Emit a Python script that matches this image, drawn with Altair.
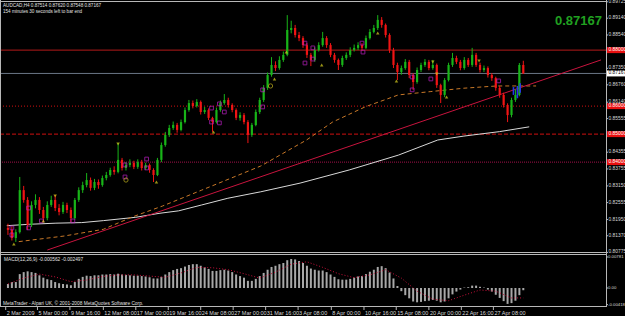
import altair as alt
import pandas as pd

# ---------------- data ----------------
first_open = 0.8165
closes = [0.8158, 0.8129, 0.8150, 0.8300, 0.8265, 0.8175, 0.8247, 0.8265, 0.8229, 0.8200,
          0.8247, 0.8265, 0.8236, 0.8222, 0.8247, 0.8229, 0.8200, 0.8265, 0.8300, 0.8318,
          0.8336, 0.8308, 0.8329, 0.8318, 0.8343, 0.8354, 0.8372, 0.8365, 0.8408, 0.8379,
          0.8390, 0.8397, 0.8383, 0.8400, 0.8379, 0.8390, 0.8372, 0.8354, 0.8408, 0.8461,
          0.8497, 0.8522, 0.8533, 0.8515, 0.8543, 0.8586, 0.8611, 0.8600, 0.8615, 0.8579,
          0.8586, 0.8558, 0.8543, 0.8586, 0.8611, 0.8622, 0.8604, 0.8586, 0.8558, 0.8568,
          0.8543, 0.8497, 0.8533, 0.8579, 0.8622, 0.8665, 0.8711, 0.8747, 0.8736, 0.8765,
          0.8783, 0.8872, 0.8879, 0.8854, 0.8843, 0.8818, 0.8783, 0.8765, 0.8800, 0.8818,
          0.8843, 0.8818, 0.8783, 0.8765, 0.8747, 0.8772, 0.8783, 0.8800, 0.8808, 0.8818,
          0.8808, 0.8843, 0.8865, 0.8879, 0.8908, 0.8890, 0.8854, 0.8800, 0.8747, 0.8722,
          0.8736, 0.8758, 0.8711, 0.8686, 0.8729, 0.8747, 0.8758, 0.8736, 0.8747, 0.8675,
          0.8640, 0.8693, 0.8747, 0.8772, 0.8758, 0.8736, 0.8765, 0.8747, 0.8783, 0.8747,
          0.8729, 0.8736, 0.8711, 0.8700, 0.8665, 0.8640, 0.8604, 0.8568, 0.8622, 0.8640,
          0.8747, 0.87167]
highs = [0.8180, 0.8170, 0.8160, 0.8347, 0.8315, 0.8275, 0.8260, 0.8285, 0.8275, 0.8240,
         0.8260, 0.8280, 0.8283, 0.8250, 0.8258, 0.8255, 0.8238, 0.8272, 0.8310, 0.8330,
         0.8361, 0.8345, 0.8340, 0.8338, 0.8352, 0.8365, 0.8380, 0.8385, 0.8468, 0.8415,
         0.8400, 0.8410, 0.8405, 0.8410, 0.8408, 0.8398, 0.8395, 0.8378, 0.8415, 0.8470,
         0.8508, 0.8533, 0.8545, 0.8540, 0.8552, 0.8595, 0.8622, 0.8620, 0.8625, 0.8620,
         0.8597, 0.8592, 0.8562, 0.8595, 0.8620, 0.8643, 0.8630, 0.8610, 0.8592, 0.8578,
         0.8575, 0.8550, 0.8540, 0.8588, 0.8630, 0.8675, 0.8720, 0.8775, 0.8760, 0.8778,
         0.8795, 0.8925, 0.8905, 0.8890, 0.8865, 0.8850, 0.8825, 0.8790, 0.8810, 0.8828,
         0.8865, 0.8850, 0.8825, 0.8790, 0.8770, 0.8780, 0.8792, 0.8810, 0.8820, 0.8828,
         0.8825, 0.8852, 0.8875, 0.8890, 0.8925, 0.8918, 0.8895, 0.8860, 0.8808, 0.8755,
         0.8745, 0.8768, 0.8765, 0.8718, 0.8738, 0.8755, 0.8768, 0.8765, 0.8765, 0.8752,
         0.8680, 0.8700, 0.8755, 0.8790, 0.8780, 0.8765, 0.8775, 0.8772, 0.8808, 0.8790,
         0.8755, 0.8745, 0.8742, 0.8718, 0.8705, 0.8672, 0.8648, 0.8610, 0.8630, 0.8660,
         0.8754, 0.8762]
lows = [0.8140, 0.8120, 0.8115, 0.8145, 0.8255, 0.8158, 0.8168, 0.8235, 0.8215, 0.8186,
        0.8192, 0.8240, 0.8225, 0.8210, 0.8215, 0.8218, 0.8186, 0.8195, 0.8258, 0.8290,
        0.8310, 0.8298, 0.8300, 0.8305, 0.8312, 0.8335, 0.8348, 0.8355, 0.8360, 0.8370,
        0.8370, 0.8382, 0.8375, 0.8376, 0.8370, 0.8372, 0.8362, 0.8329, 0.8350, 0.8400,
        0.8455, 0.8490, 0.8515, 0.8505, 0.8510, 0.8538, 0.8580, 0.8592, 0.8595, 0.8570,
        0.8572, 0.8550, 0.8508, 0.8538, 0.8580, 0.8605, 0.8595, 0.8578, 0.8550, 0.8548,
        0.8535, 0.8468, 0.8490, 0.8528, 0.8572, 0.8615, 0.8658, 0.8705, 0.8725, 0.8730,
        0.8758, 0.8778, 0.8860, 0.8845, 0.8832, 0.8808, 0.8772, 0.8743, 0.8758, 0.8795,
        0.8812, 0.8808, 0.8775, 0.8755, 0.8729, 0.8740, 0.8765, 0.8775, 0.8795, 0.8800,
        0.8798, 0.8803, 0.8838, 0.8860, 0.8872, 0.8880, 0.8845, 0.8790, 0.8736, 0.8693,
        0.8712, 0.8730, 0.8700, 0.8658, 0.8680, 0.8722, 0.8740, 0.8728, 0.8730, 0.8665,
        0.8611, 0.8632, 0.8688, 0.8740, 0.8750, 0.8728, 0.8730, 0.8740, 0.8740, 0.8740,
        0.8720, 0.8722, 0.8702, 0.8690, 0.8655, 0.8630, 0.8595, 0.8543, 0.8560, 0.8615,
        0.8635, 0.8715]

# MACD(12,26,9) main line (histogram), in thousandths
macd_e3 = [1.0, 1.5, 1.5, 3.5, 4.0, 4.2, 4.0, 3.8, 3.2, 2.6,
           2.2, 2.0, 1.5, 1.2, 1.0, 0.9, 0.7, 1.5, 2.3, 2.8,
           3.1, 3.0, 3.2, 3.2, 3.4, 3.4, 3.5, 3.4, 3.6, 3.4,
           3.3, 3.2, 3.1, 3.1, 3.0, 2.9, 2.7, 2.4, 2.4, 2.8,
           3.4, 4.0, 4.5, 4.8, 5.0, 5.4, 5.8, 6.0, 6.0, 5.6,
           5.2, 4.8, 4.3, 4.3, 4.5, 4.6, 4.4, 4.0, 3.4, 3.0,
           2.6, 1.8, 1.8, 2.3, 3.0, 3.8, 4.6, 5.3, 5.6, 6.0,
           6.3, 7.0, 7.3, 7.2, 6.8, 6.3, 5.6, 4.9, 4.6, 4.4,
           4.4, 4.0, 3.4, 2.8, 2.2, 2.1, 2.1, 2.3, 2.6, 2.9,
           3.0, 3.5, 4.1, 4.6, 5.3, 5.5, 5.0, 3.9, 2.4, 0.5,
           -0.8, -1.8, -2.6, -3.4, -3.6, -3.5, -3.3, -3.2, -3.0, -3.2,
           -3.6, -3.4, -2.6, -1.6, -0.9, -0.4, 0.1, 0.2, 0.6, 0.6,
           0.3, 0.1, -0.4, -0.9, -1.7, -2.5, -3.3, -4.0, -3.8, -3.2,
           -1.8, -0.56]
signal_idx = [0, 4, 8, 12, 16, 20, 24, 28, 32, 36, 40, 44, 48, 52, 56, 60, 64, 68,
              72, 76, 80, 84, 88, 92, 96, 100, 104, 108, 112, 116, 120, 124, 128, 131]
signal_e3 = [1.0, 2.5, 3.5, 2.8, 1.6, 2.0, 2.9, 3.3, 3.3, 3.0, 2.7, 3.8, 5.2, 5.1, 4.6, 3.6, 2.5, 4.0,
             6.0, 6.6, 5.2, 3.6, 2.6, 3.3, 4.6, 2.5, -0.8, -2.8, -3.2, -1.8, -0.5, -0.8, -2.5, -2.5]

ma_fast_idx = [2.75, 14.25, 24.25, 31.75, 39.25, 49.25, 56.75, 64.25, 75.9, 82.5, 90.9, 99.25, 107.5, 115.9, 124.25, 134.25]
ma_fast_val = [0.8116, 0.8136, 0.8160, 0.8205, 0.8243, 0.8300, 0.8343, 0.8386, 0.8479, 0.8543, 0.8598, 0.8640, 0.8652, 0.8664, 0.8672, 0.8672]
ma_slow_idx = [-0.3, 5.5, 12.2, 18.75, 24.25, 32.5, 38.4, 43.4, 49.25, 55.9, 64.25, 74.25, 86.75, 99.25, 109.25, 115.9, 125, 132.5]
ma_slow_val = [0.8173, 0.8178, 0.8182, 0.8184, 0.8191, 0.8203, 0.8217, 0.8226, 0.8247, 0.8271, 0.8294, 0.8325, 0.8372, 0.8425, 0.8479, 0.8493, 0.8509, 0.8526]
trend_idx = [10, 150.75]
trend_val = [0.8086, 0.8765]

blue_idx = [128.5, 129.5, 130.2]
blue_lo = [0.8640, 0.8628, 0.8648]
blue_hi = [0.8668, 0.8672, 0.8682]

sq_idx = [1, 1, 5.25, 5.25, 8.5, 16.5, 29.75, 29.75, 35.25, 35.25, 51.75, 51.75, 53.75, 53.75, 55,
          64.75, 64.75, 75.5, 75.5, 77.5, 77.5, 90, 90.25, 102.75, 102.75, 107.5, 124.75]
sq_val = [0.8165, 0.8140, 0.8236, 0.8165, 0.8190, 0.8190, 0.8390, 0.8347, 0.8411, 0.8379, 0.8593, 0.8543, 0.8608, 0.8540, 0.8579,
          0.8658, 0.8597, 0.8825, 0.8754, 0.8808, 0.8768, 0.8825, 0.8793, 0.8704, 0.8658, 0.8697, 0.8690]
tri_up_idx = [1.5, 9, 37.75, 52.25, 67.75, 70.75, 79.75, 94, 98.75, 111.5]
tri_up_val = [0.8108, 0.8190, 0.8329, 0.8508, 0.8697, 0.8793, 0.8747, 0.8861, 0.8690, 0.8633]
tri_dn_idx = [12, 28, 108, 109, 119.75]
tri_dn_val = [0.8279, 0.8465, 0.8758, 0.8715, 0.8761]
circ_idx = [30, 66.75]
circ_val = [0.8336, 0.8672]

level_prices = [0.88, 0.86, 0.85, 0.84]
level_labels = ["0.88000", "0.86000", "0.85000", "0.84000"]
bid_price = 0.87167
bid_label = "0.87167"
price_ticks = [0.89725, 0.89140, 0.88540, 0.87350, 0.86760, 0.86140, 0.85555,
               0.84355, 0.83755, 0.83150, 0.82555, 0.81950, 0.81370, 0.80775]
macd_ticks = [7.81, 0.0, -4.18]
macd_tick_labels = ["0.00781", "0.00", "-0.00418"]

date_pos = [-0.575, 7.5, 15.75, 24.25, 32.5, 40.75, 49, 57.25, 65.5, 73.75, 82.2, 90.5, 98.7, 107, 115.25, 123.4]
date_labels = ["2 Mar 2009", "5 Mar 00:00", "9 Mar 16:00", "12 Mar 08:00", "17 Mar 00:00", "19 Mar 16:00",
               "24 Mar 08:00", "27 Mar 00:00", "31 Mar 16:00", "3 Apr 08:00", "8 Apr 00:00", "10 Apr 16:00",
               "15 Apr 08:00", "20 Apr 00:00", "22 Apr 16:00", "27 Apr 08:00"]

header1 = "AUDCAD,H4  0.87514 0.87620 0.87548 0.87167"
header2 = "154 minutes 30 seconds left to bar end"
macd_title = "MACD(12,26,9) -0.000562 -0.002497"
copyright_text = "MetaTrader - Alpari UK, \u00a9 2001-2008 MetaQuotes Software Corp."

# ---------------- scales ----------------
FONT = "Liberation Sans"
X = alt.Scale(domain=[-0.75, 150.75], range=[0, 606], zero=False, nice=False)
YM = alt.Scale(domain=[0.8079, 0.8979], range=[252, 0], zero=False, nice=False)
YD = alt.Scale(domain=[-4.53, 8.56], range=[306, 254], zero=False, nice=False)
COL = alt.Scale(domain=["up", "down"], range=["#18b418", "#f01414"])


def xq(f):
    return alt.X(f, type="quantitative", scale=X, axis=None)


def ym(f):
    return alt.Y(f, type="quantitative", scale=YM, axis=None)


def yd(f):
    return alt.Y(f, type="quantitative", scale=YD, axis=None)


one = pd.DataFrame({"k": [0]})
layers = []

# level lines
level_styles = [("#b41a1a", None), ("#d01010", [1, 2]), ("#d01010", [4, 2]), ("#a0104a", [1, 1])]
for p, (c, d) in zip(level_prices, level_styles):
    kw = {"color": c, "strokeWidth": 1}
    if d:
        kw["strokeDash"] = d
    layers.append(alt.Chart(pd.DataFrame({"p": [p]})).mark_rule(**kw).encode(
        x=alt.value(0), x2=alt.value(606), y=ym("p")))
# bid line
layers.append(alt.Chart(pd.DataFrame({"p": [bid_price]})).mark_rule(color="#6a7585", strokeWidth=1).encode(
    x=alt.value(0), x2=alt.value(606), y=ym("p")))

# moving averages and trend line
layers.append(alt.Chart(pd.DataFrame({"i": ma_slow_idx, "v": ma_slow_val})).mark_line(
    color="#d8d8d8", strokeWidth=1).encode(x=xq("i"), y=ym("v")))
layers.append(alt.Chart(pd.DataFrame({"i": ma_fast_idx, "v": ma_fast_val})).mark_line(
    color="#c87828", strokeWidth=1, strokeDash=[4, 3]).encode(x=xq("i"), y=ym("v")))
layers.append(alt.Chart(pd.DataFrame({"i": trend_idx, "v": trend_val})).mark_line(
    color="#c8143e", strokeWidth=1).encode(x=xq("i"), y=ym("v")))

# candles
opens = [first_open] + closes[:-1]
candles = pd.DataFrame({"i": list(range(len(closes))), "open": opens, "close": closes,
                        "high": highs, "low": lows})
candles["dir"] = ["up" if c >= o else "down" for o, c in zip(opens, closes)]
layers.append(alt.Chart(candles).mark_rule(strokeWidth=1).encode(
    x=xq("i"), y=ym("low"), y2="high:Q", color=alt.Color("dir:N", scale=COL, legend=None)))
layers.append(alt.Chart(candles).mark_bar(size=2.2, strokeWidth=0).encode(
    x=xq("i"), y=ym("open"), y2="close:Q", color=alt.Color("dir:N", scale=COL, legend=None)))
layers.append(alt.Chart(pd.DataFrame({"i": blue_idx, "lo": blue_lo, "hi": blue_hi})).mark_bar(
    size=1.6, color="#2838e8").encode(x=xq("i"), y=ym("lo"), y2="hi:Q"))

# markers
layers.append(alt.Chart(pd.DataFrame({"i": sq_idx, "v": sq_val})).mark_point(
    shape="square", size=14, filled=False, color="#c020c8", strokeWidth=1).encode(x=xq("i"), y=ym("v")))
layers.append(alt.Chart(pd.DataFrame({"i": tri_up_idx, "v": tri_up_val})).mark_point(
    shape="triangle-up", size=12, filled=True, color="#d8d020").encode(x=xq("i"), y=ym("v")))
layers.append(alt.Chart(pd.DataFrame({"i": tri_dn_idx, "v": tri_dn_val})).mark_point(
    shape="triangle-down", size=12, filled=True, color="#d8d020").encode(x=xq("i"), y=ym("v")))
layers.append(alt.Chart(pd.DataFrame({"i": circ_idx, "v": circ_val})).mark_point(
    shape="circle", size=18, filled=False, color="#c8b820", strokeWidth=1).encode(x=xq("i"), y=ym("v")))

# MACD
layers.append(alt.Chart(pd.DataFrame({"i": list(range(len(macd_e3))), "v": macd_e3})).mark_bar(
    size=2, color="#a8a8a8").encode(x=xq("i"), y=yd("v"), y2=alt.datum(0)))
layers.append(alt.Chart(pd.DataFrame({"i": signal_idx, "v": signal_e3})).mark_line(
    color="#c8103a", strokeWidth=1, strokeDash=[1, 2]).encode(x=xq("i"), y=yd("v")))

# frame lines
frame = "#b8b8b8"
layers.append(alt.Chart(one).mark_rule(color=frame).encode(x=alt.value(606.5), y=alt.value(0), y2=alt.value(307)))
layers.append(alt.Chart(one).mark_rule(color=frame).encode(x=alt.value(0.5), y=alt.value(0), y2=alt.value(307)))
for yy in [1.5, 252.5, 254.5, 306.5]:
    layers.append(alt.Chart(one).mark_rule(color=frame).encode(x=alt.value(0), x2=alt.value(607), y=alt.value(yy)))

# price axis labels
layers.append(alt.Chart(pd.DataFrame({"p": price_ticks})).mark_rule(color=frame).encode(
    x=alt.value(606), x2=alt.value(608), y=ym("p")))
layers.append(alt.Chart(pd.DataFrame({"p": price_ticks, "t": [f"{v:.5f}" for v in price_ticks]})).mark_text(
    align="left", baseline="middle", fontSize=4.9, font=FONT, color="#d8d8d8").encode(
    x=alt.value(608.5), y=ym("p"), text="t:N"))
layers.append(alt.Chart(pd.DataFrame({"p": level_prices})).mark_rule(color="#e81010", strokeWidth=6).encode(
    x=alt.value(607), x2=alt.value(625), y=ym("p")))
layers.append(alt.Chart(pd.DataFrame({"p": level_prices, "t": level_labels})).mark_text(
    align="left", baseline="middle", fontSize=4.9, font=FONT, color="#ffffff").encode(
    x=alt.value(608.5), y=ym("p"), text="t:N"))
layers.append(alt.Chart(pd.DataFrame({"p": [bid_price]})).mark_rule(color="#ffffff", strokeWidth=6).encode(
    x=alt.value(607), x2=alt.value(625), y=ym("p")))
layers.append(alt.Chart(pd.DataFrame({"p": [bid_price], "t": [bid_label]})).mark_text(
    align="left", baseline="middle", fontSize=4.9, font=FONT, color="#000000").encode(
    x=alt.value(608.5), y=ym("p"), text="t:N"))

# MACD axis labels
layers.append(alt.Chart(pd.DataFrame({"v": macd_ticks})).mark_rule(color=frame).encode(
    x=alt.value(606), x2=alt.value(608), y=yd("v")))
layers.append(alt.Chart(pd.DataFrame({"v": macd_ticks, "t": macd_tick_labels})).mark_text(
    align="left", baseline="middle", fontSize=4.3, font=FONT, color="#d8d8d8").encode(
    x=alt.value(608), y=yd("v"), text="t:N"))

# time axis
layers.append(alt.Chart(pd.DataFrame({"i": date_pos})).mark_rule(color=frame).encode(
    x=xq("i"), y=alt.value(307), y2=alt.value(310)))
layers.append(alt.Chart(pd.DataFrame({"i": date_pos, "t": date_labels})).mark_text(
    align="left", baseline="alphabetic", fontSize=5.5, font=FONT, color="#d8d8d8", dx=1).encode(
    x=xq("i"), y=alt.value(314.5), text="t:N"))

# texts
def txt(s, x, y, size, color, align="left", weight="normal"):
    return alt.Chart(pd.DataFrame({"t": [s]})).mark_text(
        align=align, baseline="alphabetic", fontSize=size, font=FONT, color=color, fontWeight=weight).encode(
        x=alt.value(x), y=alt.value(y), text="t:N")


layers.append(txt(header1, 3, 7, 4.6, "#e0e0e0"))
layers.append(txt(header2, 3, 12.5, 4.6, "#e0e0e0"))
layers.append(txt(macd_title, 4, 261, 4.8, "#e0e0e0"))
layers.append(txt(copyright_text, 3, 305, 4.8, "#e0e0e0"))
layers.append(txt(bid_label, 602, 24.5, 13, "#20a020", align="right", weight="bold"))

chart = alt.layer(*layers).resolve_scale(y="independent").properties(
    width=625, height=316, background="#000000",
    padding={"left": 0, "top": 0, "right": 0, "bottom": 0},
    autosize=alt.AutoSizeParams(type="none"),
).configure_view(strokeWidth=0)

chart.save("out.html", embed_options={"renderer": "svg", "actions": False})
